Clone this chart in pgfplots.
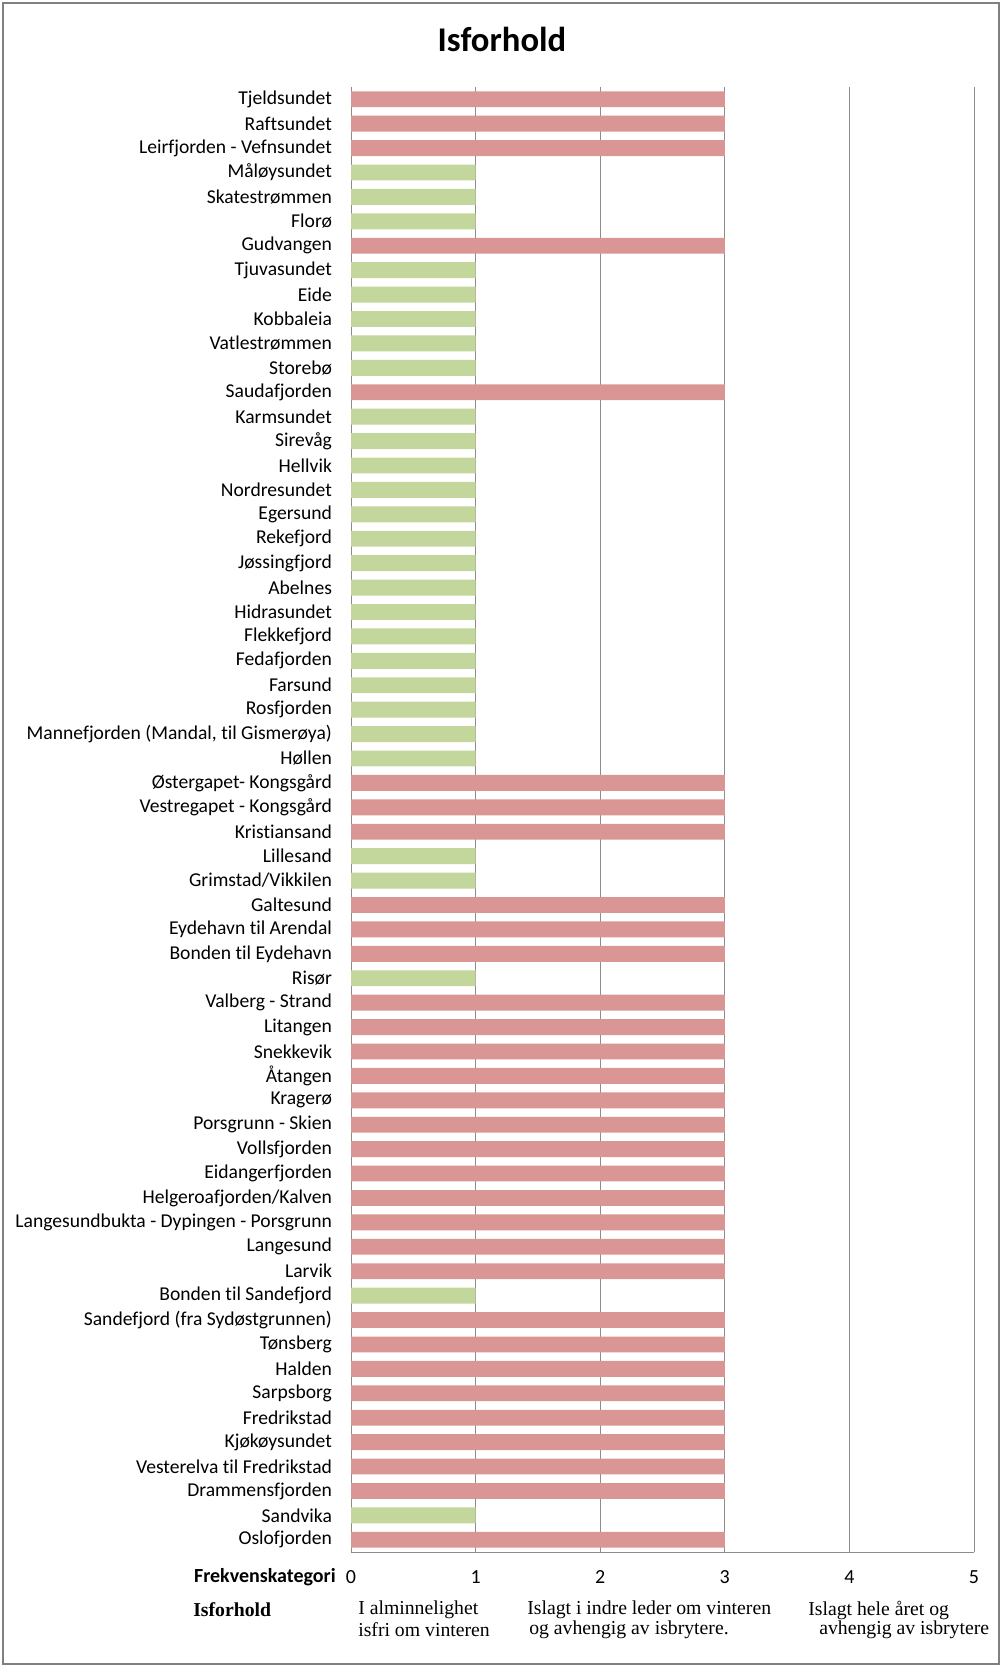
\documentclass[border=0pt]{standalone}
\usepackage{pgfplots}
\pgfplotsset{compat=1.18}
\usepackage{fontspec}
\setmainfont{Carlito}[Ligatures={NoCommon}]
\newfontfamily\tnr{Liberation Serif}[Ligatures={NoCommon}]
\definecolor{redbar}{HTML}{D99694}
\definecolor{greenbar}{HTML}{C3D69B}
\definecolor{gridgray}{HTML}{8C8C8C}
\definecolor{framegray}{HTML}{808080}
\begin{document}
\begin{tikzpicture}[x=0.75pt,y=0.75pt]
\useasboundingbox (0,0) rectangle (1002,1667);
\fill[white] (0,0) rectangle (1002,1667);
\draw[framegray, line width=1.9pt] (3,3) rectangle (999,1664);
\begin{axis}[
  at={(263.25pt,86.25pt)}, anchor=south west,
  scale only axis, width=467.25pt, height=1098.75pt,
  xmin=0, xmax=5, ymin=-0.5, ymax=59.5, y dir=reverse,
  xbar, bar width=0.65, bar shift=0pt,
  axis x line*=bottom, axis y line*=left,
  axis line style={gridgray, line width=0.75pt},
  xmajorgrids, grid style={gridgray, line width=0.75pt},
  xtick={0,1,2,3,4,5}, xticklabels={0,1,2,3,4,5},
  xtick style={draw=none}, ytick style={draw=none},
  xticklabel style={font=\fontsize{15}{18}\selectfont, anchor=center, yshift=-18.75pt},
  ytick={0,...,59},
  yticklabel style={font=\fontsize{14.7}{18}\selectfont, xshift=-6.5pt},
  yticklabels={Tjeldsundet,Raftsundet,Leirfjorden - Vefnsundet,Måløysundet,Skatestrømmen,Florø,Gudvangen,Tjuvasundet,Eide,Kobbaleia,Vatlestrømmen,Storebø,Saudafjorden,Karmsundet,Sirevåg,Hellvik,Nordresundet,Egersund,Rekefjord,Jøssingfjord,Abelnes,Hidrasundet,Flekkefjord,Fedafjorden,Farsund,Rosfjorden,{Mannefjorden (Mandal, til Gismerøya)},Høllen,Østergapet- Kongsgård,Vestregapet - Kongsgård,Kristiansand,Lillesand,Grimstad/Vikkilen,Galtesund,Eydehavn til Arendal,Bonden til Eydehavn,Risør,Valberg - Strand,Litangen,Snekkevik,Åtangen,Kragerø,Porsgrunn - Skien,Vollsfjorden,Eidangerfjorden,Helgeroafjorden/Kalven,Langesundbukta - Dypingen - Porsgrunn,Langesund,Larvik,Bonden til Sandefjord,Sandefjord (fra Sydøstgrunnen),Tønsberg,Halden,Sarpsborg,Fredrikstad,Kjøkøysundet,Vesterelva til Fredrikstad,Drammensfjorden,Sandvika,Oslofjorden},
]
\addplot[fill=redbar, draw=none] coordinates {
 (3,0) (3,1) (3,2) (3,6) (3,12) (3,28) (3,29) (3,30) (3,33) (3,34) (3,35)
 (3,37) (3,38) (3,39) (3,40) (3,41) (3,42) (3,43) (3,44) (3,45) (3,46) (3,47) (3,48)
 (3,50) (3,51) (3,52) (3,53) (3,54) (3,55) (3,56) (3,57) (3,59)};
\addplot[fill=greenbar, draw=none] coordinates {
 (1,3) (1,4) (1,5) (1,7) (1,8) (1,9) (1,10) (1,11) (1,13) (1,14) (1,15) (1,16)
 (1,17) (1,18) (1,19) (1,20) (1,21) (1,22) (1,23) (1,24) (1,25) (1,26) (1,27)
 (1,31) (1,32) (1,36) (1,49) (1,58)};
\end{axis}
\node[font=\fontsize{26}{30}\selectfont\bfseries] at (502,1628) {Isforhold};
\node[font=\fontsize{15}{18}\selectfont\bfseries, anchor=east, inner sep=0pt] at (336,90) {Frekvenskategori};
\begin{scope}[every node/.style={anchor=west, inner sep=0pt, font=\tnr\fontsize{14.8}{17}\selectfont}]
\node[font=\tnr\bfseries\fontsize{14.8}{17}\selectfont] at (193,57) {Isforhold};
\node at (358,57) {I alminnelighet};
\node at (358,37) {isfri om vinteren};
\node at (527,57) {Islagt i indre leder om vinteren};
\node at (529,37) {og avhengig av isbrytere.};
\node at (808,57) {Islagt hele året og};
\node at (819,37) {avhengig av isbrytere};
\end{scope}
\end{tikzpicture}
\end{document}
